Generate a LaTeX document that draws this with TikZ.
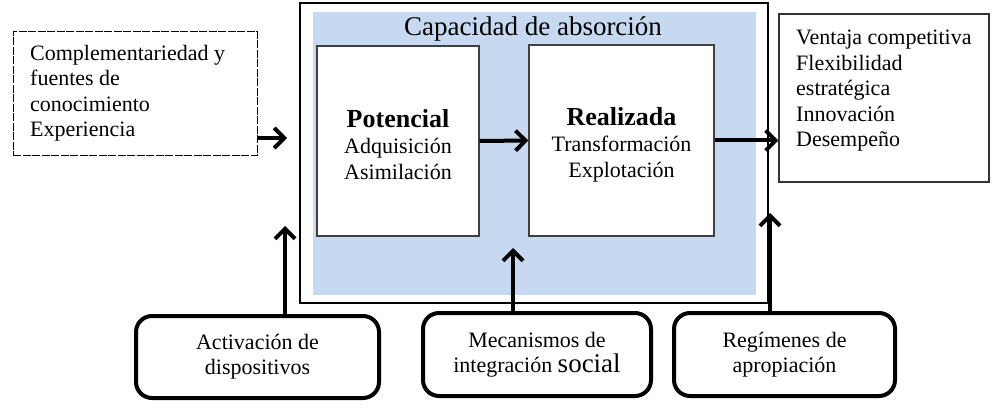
\documentclass[tikz,border=0pt]{standalone}
\usepackage{fontspec}
\setmainfont{Liberation Serif}
\usetikzlibrary{arrows.meta,calc}
\definecolor{blueish}{RGB}{198,217,241}
\begin{document}
\begin{tikzpicture}[x=1pt,y=-1pt,
 txt/.style={font=\fontsize{22}{25.5}\selectfont},
 arr/.style={line width=4pt,-{Straight Barb[length=10pt,width=20pt,line width=4pt]}},
 ibox/.style={draw=black!75, line width=1.3pt, fill=white, inner sep=0pt},
 itxt/.style={inner sep=0pt, align=center, font=\fontsize{22}{26}\selectfont},
 rbox/.style={draw=black, line width=4pt, rounded corners=16pt, fill=white, inner sep=0pt, align=center, font=\fontsize{22}{25}\selectfont}]
\useasboundingbox (0,0) rectangle (1003,414);
\fill[white] (0,0) rectangle (1003,414);
% absorption capacity frame
\node[draw, line width=1.2pt, minimum width=468pt, minimum height=300pt, inner sep=0pt] (outer) at (534,153) {};
\node[fill=blueish, minimum width=443pt, minimum height=283pt, inner sep=0pt] (blue) at (534.5,153.5) {};
\node[font=\fontsize{27}{30}\selectfont, inner sep=0pt] (title) at (533,29) {Capacidad de absorción};
\node[ibox, minimum width=162pt, minimum height=190pt] (pot) at (398,141) {};
\node[itxt] (pottext) at (398,145)
  {{\bfseries\fontsize{26}{28}\selectfont Potencial}\\Adquisición\\Asimilación};
\node[ibox, minimum width=185pt, minimum height=191pt] (real) at (621.5,140.5) {};
\node[itxt] (realtext) at (621.5,145)
  {{\bfseries\fontsize{26}{28}\selectfont Realizada}\\Transformación\\Explotación};
% left input box
\node[draw, dash pattern=on 8pt off 1.5pt, line width=1pt, minimum width=244pt, minimum height=124pt] (lbox) at (135,94) {};
\node[txt, align=flush left, anchor=north west, inner sep=0pt] (ltext) at (30,45)
  {Complementariedad y\\fuentes de\\conocimiento\\Experiencia};
% right output box
\node[draw=black!80, line width=1.2pt, minimum width=210pt, minimum height=168pt, inner sep=0pt] (rbox) at (884,98) {};
\node[txt, align=flush left, anchor=north west, inner sep=0pt] (rtext) at (796,30)
  {Ventaja competitiva\\Flexibilidad\\estratégica\\Innovación\\Desempeño};
% bottom boxes
\node[rbox, minimum width=243pt, minimum height=82pt] (b1) at (257.5,357) {Activación de\\dispositivos};
\node[rbox, minimum width=228pt, minimum height=83pt] (b2) at (537,354.5) {Mecanismos de\\integración {\fontsize{27}{25}\selectfont social}};
\node[rbox, minimum width=221pt, minimum height=83pt] (b3) at (784.5,354.5) {Regímenes de\\apropiación};
% arrows
\coordinate (la) at (287,138);
\draw[arr] (lbox.east |- la) -- (la);
\draw[arr] (pot.east) -- (real.west);
\draw[arr] (real.east) -- (rbox.west |- real.east);
\coordinate (u1) at (285,226);
\draw[arr] (b1.north -| u1) -- (u1);
\coordinate (u2) at (513,248);
\draw[arr] (b2.north -| u2) -- (u2);
\coordinate (u3) at (770,213);
\draw[arr] (b3.north -| u3) -- (u3);
\end{tikzpicture}
\end{document}
